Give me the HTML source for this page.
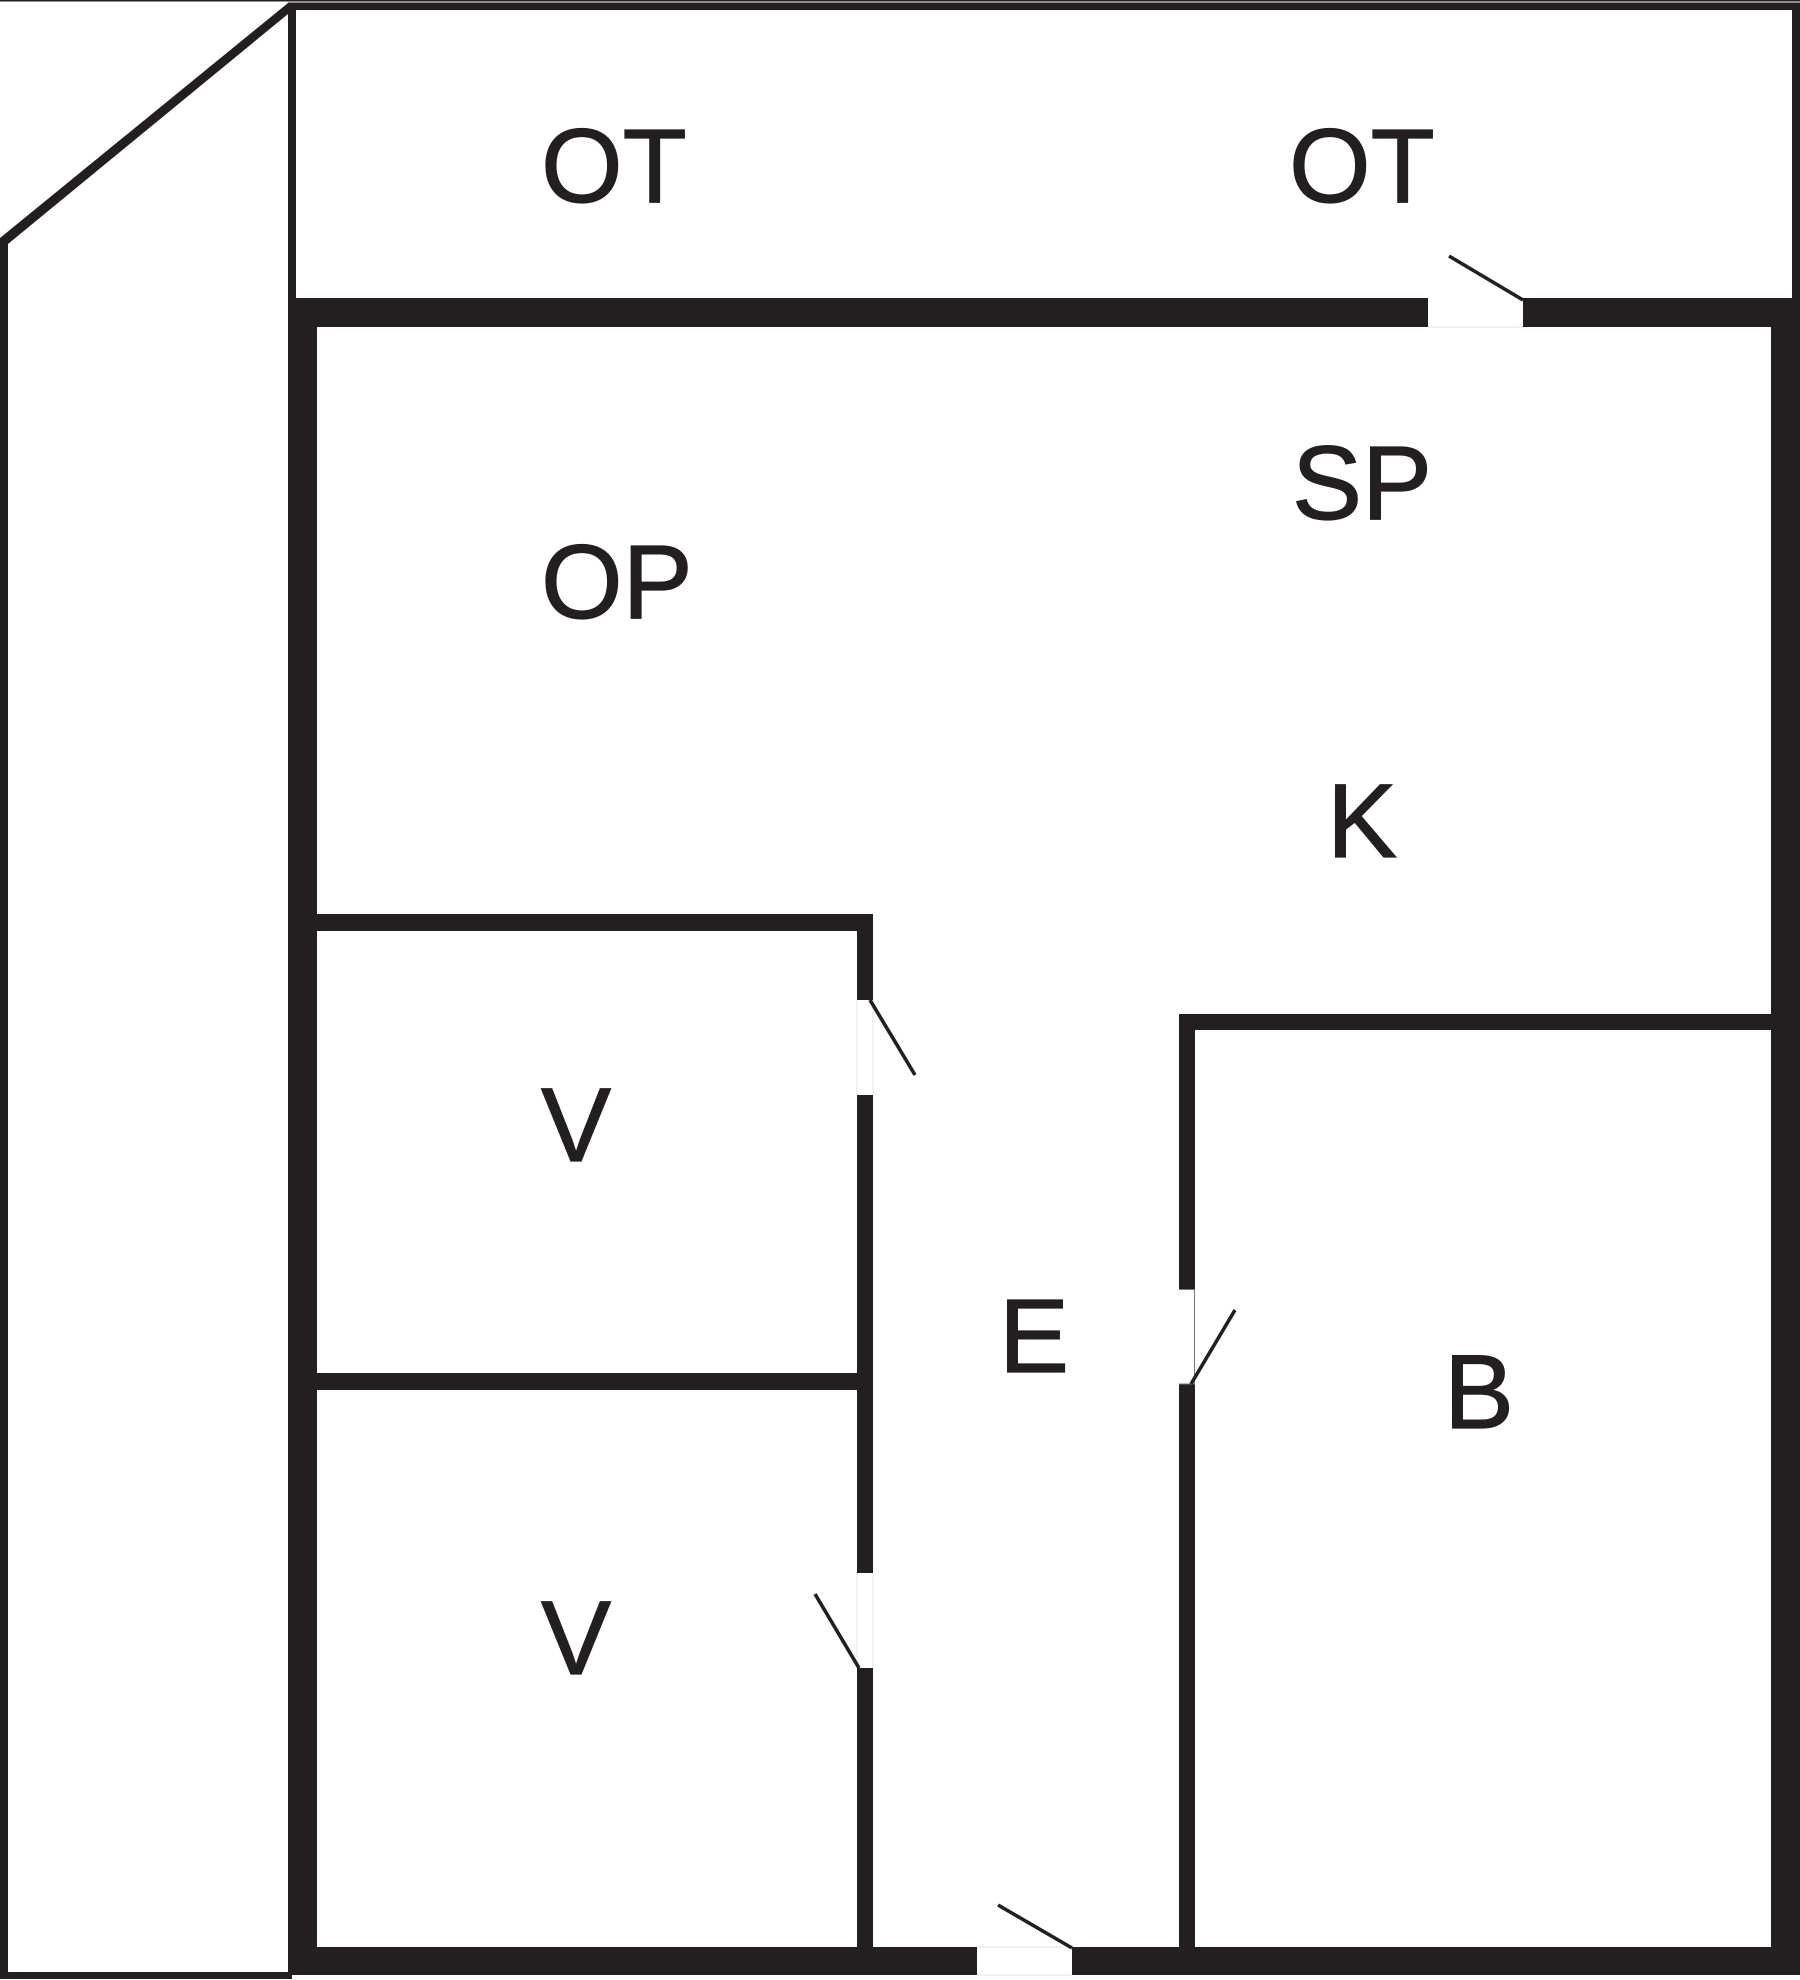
<!DOCTYPE html>
<html><head><meta charset="utf-8"><style>
html,body{margin:0;padding:0;background:#fff;width:1800px;height:1980px;overflow:hidden}
svg{display:block}
text{font-family:"Liberation Sans",Arial,sans-serif;font-size:105px;fill:#231f20;stroke:#231f20;stroke-width:1.2px}
</style></head><body>
<svg width="1800" height="1980" viewBox="0 0 1800 1980" xmlns="http://www.w3.org/2000/svg">
<rect width="1800" height="1980" fill="#fff"/>
<g fill="#231f20">
<rect x="0" y="0" width="1800" height="1.5"/>
<!-- left panel -->
<polygon points="0,238 288,3 288,14 8,244 8,1972 288,1972 292,1972 292,1979 0,1979"/>
<!-- OT frame -->
<rect x="288" y="2.5" width="1512" height="7.5"/>
<rect x="288" y="2.5" width="8" height="300"/>
<rect x="1792" y="2.5" width="8" height="300"/>
<!-- thick top wall -->
<rect x="288" y="298" width="1140" height="29"/>
<rect x="1523" y="298" width="277" height="29"/>
<!-- thick left and right walls -->
<rect x="288" y="298" width="29" height="1677"/>
<rect x="1771" y="298" width="29" height="1677"/>
<!-- thick bottom wall -->
<rect x="288" y="1947" width="689" height="28"/>
<rect x="1072" y="1947" width="728" height="28"/>
<!-- V rooms -->
<rect x="317" y="914" width="556" height="17"/>
<rect x="317" y="1373" width="540" height="17"/>
<rect x="857" y="914" width="16" height="86"/>
<rect x="857" y="1095" width="16" height="478"/>
<rect x="857" y="1668" width="16" height="280"/>
<!-- B room -->
<rect x="1179" y="1014" width="592" height="16"/>
<rect x="1179" y="1014" width="16" height="275"/>
<rect x="1179" y="1384" width="16" height="564"/>
</g>
<!-- gap edge hairlines -->
<g stroke="#e4e4e4" stroke-width="1" fill="none">
<path d="M857 1000V1095M873 1000V1095M857 1573V1668M873 1573V1668M977 1947H1072M977 1975H1072M1428 327H1523"/>
</g>
<path d="M1179 1289.5H1194.5V1384H1179" stroke="#777" stroke-width="1" fill="none"/>
<!-- door leaves -->
<g stroke="#231f20" stroke-width="3.6" fill="none">
<path d="M1523 300L1449 256"/>
<path d="M870 1000L915 1075"/>
<path d="M1191 1384L1235 1310"/>
<path d="M859 1668L815 1594"/>
<path d="M1072 1948L998 1905"/>
</g>
<text x="541" y="202">OT</text>
<text x="1289" y="202">OT</text>
<text x="1292" y="519">SP</text>
<text x="541" y="618">OP</text>
<text x="1327" y="857">K</text>
<text x="541" y="1161">V</text>
<text x="541" y="1674">V</text>
<text x="999" y="1372">E</text>
<text x="1444" y="1428">B</text>
</svg>
</body></html>
